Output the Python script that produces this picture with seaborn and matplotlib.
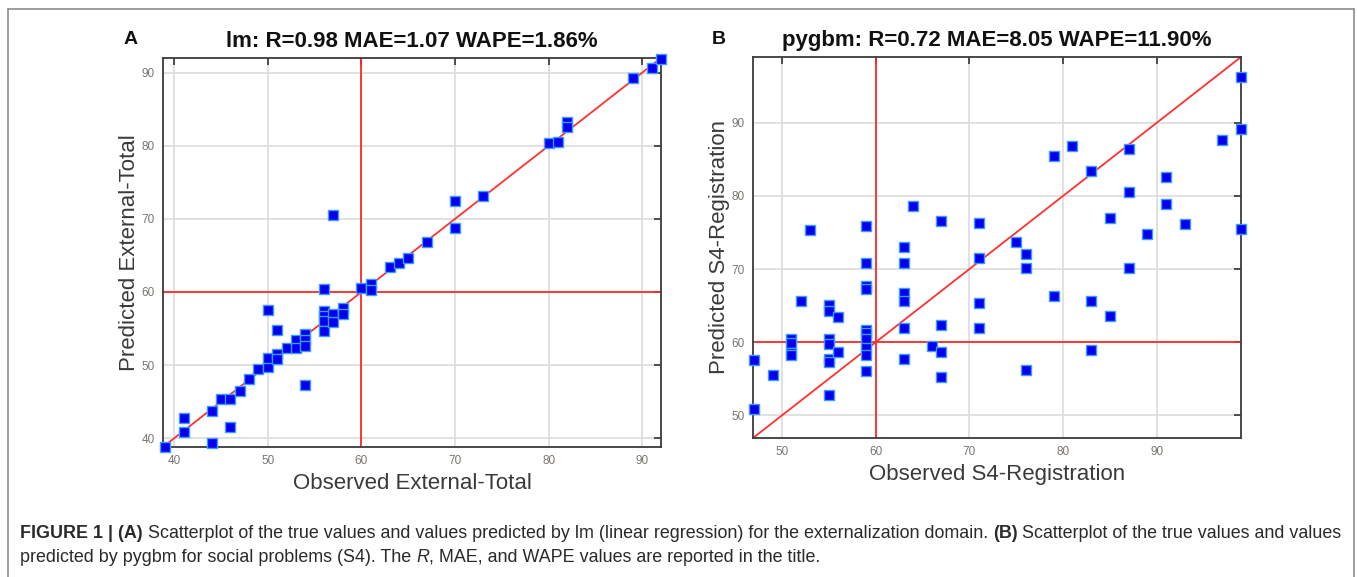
import numpy as np
import pandas as pd
import matplotlib
matplotlib.use("Agg")
import matplotlib.pyplot as plt
import matplotlib.transforms as mtransforms
import seaborn as sns

# ---------------- data ----------------
obs_A = [39, 41, 41, 44, 44, 45, 46, 46, 47, 48, 49, 50, 50, 50, 51, 51, 51, 52, 53, 53,
         54, 54, 54, 54, 56, 56, 56, 56, 56, 57, 57, 57, 58, 58, 60, 61, 61, 63, 64, 65,
         67, 70, 70, 73, 80, 81, 82, 82, 89, 91, 92]
pred_A = [38.8, 42.7, 40.9, 39.3, 43.7, 45.3, 45.3, 41.5, 46.5, 48.1, 49.4, 49.7, 51.0, 57.5,
          51.5, 50.9, 54.8, 52.3, 53.4, 52.4, 54.3, 53.5, 52.6, 47.3, 60.4, 57.4, 56.7, 56.1,
          54.6, 57.0, 55.9, 70.5, 57.8, 57.0, 60.5, 61.1, 60.3, 63.4, 64.0, 64.6, 66.9, 72.4,
          68.7, 73.1, 80.4, 80.5, 83.3, 82.6, 89.2, 90.6, 91.9]

obs_B = [47, 47, 49, 51, 51, 51, 51, 52, 53,
         55, 55, 55, 55, 55, 55, 55,
         56, 56,
         59, 59, 59, 59, 59, 59, 59, 59, 59, 59,
         63, 63, 63, 63, 63, 63,
         64, 66,
         67, 67, 67, 67,
         71, 71, 71, 71,
         75, 76, 76, 76,
         79, 79, 81,
         83, 83, 83,
         85, 85,
         87, 87, 87,
         89, 91, 91, 93, 97,
         99, 99, 99]
pred_B = [57.5, 50.9, 55.5, 60.5, 59.9, 58.5, 58.2, 65.7, 75.3,
          65.1, 64.2, 60.5, 59.8, 57.7, 57.3, 52.8,
          63.5, 58.7,
          75.9, 70.8, 67.7, 67.3, 61.7, 61.2, 60.5, 59.2, 58.3, 56.1,
          73.0, 70.8, 66.7, 65.7, 62.0, 57.7,
          78.6, 59.5,
          76.6, 62.4, 58.7, 55.3,
          76.3, 71.5, 65.3, 62.0,
          73.7, 72.1, 70.1, 56.2,
          85.5, 66.3, 86.8,
          83.4, 65.6, 58.9,
          77.0, 63.6,
          86.4, 80.6, 70.1,
          74.8, 82.6, 78.9, 76.1, 87.7,
          96.2, 89.1, 75.5]

ticks_A = [40, 50, 60, 70, 80, 90]
ticks_B = [50, 60, 70, 80, 90]
lim_A = (38.8, 92.0)
lim_B = (46.9, 99.0)
ref_value = 60

title_A = "lm: R=0.98 MAE=1.07 WAPE=1.86%"
title_B = "pygbm: R=0.72 MAE=8.05 WAPE=11.90%"
xlabel_A, ylabel_A = "Observed External-Total", "Predicted External-Total"
xlabel_B, ylabel_B = "Observed S4-Registration", "Predicted S4-Registration"

caption_1 = [("FIGURE 1 | (A)", "bold", "normal"),
             (" Scatterplot of the true values and values predicted by lm (linear regression) for the externalization domain. ", "normal", "normal"),
             ("(B)", "bold", "normal"),
             (" Scatterplot of the true values and values", "normal", "normal")]
caption_2 = [("predicted by pygbm for social problems (S4). The ", "normal", "normal"),
             ("R", "normal", "italic"),
             (", MAE, and WAPE values are reported in the title.", "normal", "normal")]

# ---------------- style ----------------
sns.set_style("white")
plt.rcParams["font.family"] = ["Liberation Sans", "DejaVu Sans"]

W, H = 1357, 577
fig = plt.figure(figsize=(W / 100, H / 100), dpi=100)
fig.patch.set_facecolor("white")

def px_axes(l, t, r, b):
    return fig.add_axes([l / W, 1 - b / H, (r - l) / W, (b - t) / H])

axA = px_axes(163, 58, 661, 447)
axB = px_axes(753, 57, 1241, 438)

TICKCOL = "#7a7570"
LABCOL = "#3a3a3a"

def style_panel(ax, obs, pred, lim, ticks, title, xl, yl):
    df = pd.DataFrame({"obs": obs, "pred": pred})
    ax.set_axisbelow(True)
    ax.grid(True, color="#dcdcdc", lw=1.2)
    ax.axvline(ref_value, color="#ff2a2a", lw=1.3, zorder=2)
    ax.axhline(ref_value, color="#ff2a2a", lw=1.3, zorder=2)
    ax.plot([lim[0], lim[1]], [lim[0], lim[1]], color="#ff3030", lw=1.3, zorder=2)
    sns.scatterplot(data=df, x="obs", y="pred", ax=ax, marker="s", s=42,
                    color="#0000ee", edgecolor="#3f9bff", linewidth=1.0, zorder=3,
                    clip_on=False)
    ax.set_xlim(lim)
    ax.set_ylim(lim)
    ax.set_xticks(ticks)
    ax.set_yticks(ticks)
    ax.tick_params(direction="in", top=True, right=True, length=5, width=1.2,
                   color="#333333", labelsize=8.5, labelcolor=TICKCOL, pad=6)
    for s in ax.spines.values():
        s.set_visible(True)
        s.set_color("#3a3a3a")
        s.set_linewidth(1.3)
    ax.set_title(title, fontsize=16, fontweight="bold", color="#111111", pad=8)
    ax.set_xlabel(xl, fontsize=16, color=LABCOL, labelpad=4)
    ax.set_ylabel(yl, fontsize=16, color=LABCOL, labelpad=1)

style_panel(axA, obs_A, pred_A, lim_A, ticks_A, title_A, xlabel_A, ylabel_A)
style_panel(axB, obs_B, pred_B, lim_B, ticks_B, title_B, xlabel_B, ylabel_B)

pix = mtransforms.IdentityTransform()
fig.text(124, H - 40, "A", transform=pix, fontsize=14, fontweight="bold", va="center", color="#111111")
fig.text(712, H - 40, "B", transform=pix, fontsize=14, fontweight="bold", va="center", color="#111111")

# outer frame
frame_col = "#8c8c8c"
fig.add_artist(plt.Line2D([8, 8], [H - 9, -5], transform=pix, color=frame_col, lw=1.2))
fig.add_artist(plt.Line2D([8, 1354], [H - 9, H - 9], transform=pix, color=frame_col, lw=1.2))
fig.add_artist(plt.Line2D([1354, 1354], [H - 9, -5], transform=pix, color=frame_col, lw=1.2))

# caption
renderer = fig.canvas.get_renderer()

def line_width(segs, size):
    w = 0
    for txt, wt, st in segs:
        t = fig.text(0, 0, txt, fontsize=size, fontweight=wt, fontstyle=st, transform=pix)
        w += t.get_window_extent(renderer).width
        t.remove()
    return w

base = 11
cap_size = base * 1320 / line_width(caption_1, base)

def draw_line(segs, x0, y, size):
    x = x0
    for txt, wt, st in segs:
        t = fig.text(x, y, txt, fontsize=size, fontweight=wt, fontstyle=st,
                     transform=pix, va="center", color="#2a2a2a")
        x += t.get_window_extent(renderer).width

draw_line(caption_1, 20, H - 533, cap_size)
draw_line(caption_2, 20, H - 558, cap_size)

fig.savefig("out.png", dpi=100)
